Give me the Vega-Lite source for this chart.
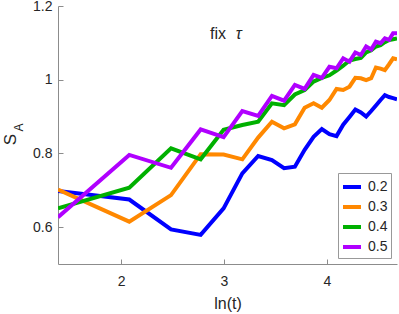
{
  "$schema": "https://vega.github.io/schema/vega-lite/v6.json",
  "width": 339,
  "height": 258,
  "autosize": {"type": "none"},
  "padding": {"left": 58, "top": 6, "right": 2, "bottom": 50},
  "config": {"view": {"stroke": null}, "font": "Liberation Sans"},
  "data": {"values": [
    {"tau":"0.2","lnt":1.386,"S":0.698},{"tau":"0.2","lnt":2.079,"S":0.675},{"tau":"0.2","lnt":2.485,"S":0.594},{"tau":"0.2","lnt":2.773,"S":0.579},{"tau":"0.2","lnt":2.996,"S":0.651},{"tau":"0.2","lnt":3.178,"S":0.746},{"tau":"0.2","lnt":3.332,"S":0.793},{"tau":"0.2","lnt":3.466,"S":0.782},{"tau":"0.2","lnt":3.584,"S":0.760},{"tau":"0.2","lnt":3.689,"S":0.764},{"tau":"0.2","lnt":3.784,"S":0.810},{"tau":"0.2","lnt":3.871,"S":0.845},{"tau":"0.2","lnt":3.951,"S":0.866},{"tau":"0.2","lnt":4.025,"S":0.852},{"tau":"0.2","lnt":4.094,"S":0.847},{"tau":"0.2","lnt":4.159,"S":0.878},{"tau":"0.2","lnt":4.220,"S":0.899},{"tau":"0.2","lnt":4.277,"S":0.919},{"tau":"0.2","lnt":4.331,"S":0.911},{"tau":"0.2","lnt":4.382,"S":0.900},{"tau":"0.2","lnt":4.431,"S":0.915},{"tau":"0.2","lnt":4.477,"S":0.930},{"tau":"0.2","lnt":4.522,"S":0.945},{"tau":"0.2","lnt":4.564,"S":0.958},{"tau":"0.2","lnt":4.605,"S":0.953},{"tau":"0.2","lnt":4.644,"S":0.950},{"tau":"0.2","lnt":4.682,"S":0.947},
    {"tau":"0.3","lnt":1.386,"S":0.702},{"tau":"0.3","lnt":2.079,"S":0.615},{"tau":"0.3","lnt":2.485,"S":0.687},{"tau":"0.3","lnt":2.773,"S":0.798},{"tau":"0.3","lnt":2.996,"S":0.797},{"tau":"0.3","lnt":3.178,"S":0.784},{"tau":"0.3","lnt":3.332,"S":0.843},{"tau":"0.3","lnt":3.466,"S":0.886},{"tau":"0.3","lnt":3.584,"S":0.868},{"tau":"0.3","lnt":3.689,"S":0.879},{"tau":"0.3","lnt":3.784,"S":0.924},{"tau":"0.3","lnt":3.871,"S":0.936},{"tau":"0.3","lnt":3.951,"S":0.924},{"tau":"0.3","lnt":4.025,"S":0.945},{"tau":"0.3","lnt":4.094,"S":0.975},{"tau":"0.3","lnt":4.159,"S":0.972},{"tau":"0.3","lnt":4.220,"S":0.981},{"tau":"0.3","lnt":4.277,"S":1.005},{"tau":"0.3","lnt":4.331,"S":1.004},{"tau":"0.3","lnt":4.382,"S":0.999},{"tau":"0.3","lnt":4.431,"S":1.004},{"tau":"0.3","lnt":4.477,"S":1.033},{"tau":"0.3","lnt":4.522,"S":1.030},{"tau":"0.3","lnt":4.564,"S":1.026},{"tau":"0.3","lnt":4.605,"S":1.042},{"tau":"0.3","lnt":4.644,"S":1.058},{"tau":"0.3","lnt":4.682,"S":1.055},
    {"tau":"0.4","lnt":1.386,"S":0.651},{"tau":"0.4","lnt":2.079,"S":0.707},{"tau":"0.4","lnt":2.485,"S":0.814},{"tau":"0.4","lnt":2.773,"S":0.784},{"tau":"0.4","lnt":2.996,"S":0.864},{"tau":"0.4","lnt":3.178,"S":0.877},{"tau":"0.4","lnt":3.332,"S":0.886},{"tau":"0.4","lnt":3.466,"S":0.936},{"tau":"0.4","lnt":3.584,"S":0.931},{"tau":"0.4","lnt":3.689,"S":0.960},{"tau":"0.4","lnt":3.784,"S":0.972},{"tau":"0.4","lnt":3.871,"S":0.995},{"tau":"0.4","lnt":3.951,"S":1.005},{"tau":"0.4","lnt":4.025,"S":1.012},{"tau":"0.4","lnt":4.094,"S":1.025},{"tau":"0.4","lnt":4.159,"S":1.038},{"tau":"0.4","lnt":4.220,"S":1.052},{"tau":"0.4","lnt":4.277,"S":1.056},{"tau":"0.4","lnt":4.331,"S":1.059},{"tau":"0.4","lnt":4.382,"S":1.074},{"tau":"0.4","lnt":4.431,"S":1.080},{"tau":"0.4","lnt":4.477,"S":1.090},{"tau":"0.4","lnt":4.522,"S":1.094},{"tau":"0.4","lnt":4.564,"S":1.102},{"tau":"0.4","lnt":4.605,"S":1.108},{"tau":"0.4","lnt":4.644,"S":1.110},{"tau":"0.4","lnt":4.682,"S":1.112},
    {"tau":"0.5","lnt":1.386,"S":0.627},{"tau":"0.5","lnt":2.079,"S":0.796},{"tau":"0.5","lnt":2.485,"S":0.761},{"tau":"0.5","lnt":2.773,"S":0.865},{"tau":"0.5","lnt":2.996,"S":0.844},{"tau":"0.5","lnt":3.178,"S":0.915},{"tau":"0.5","lnt":3.332,"S":0.902},{"tau":"0.5","lnt":3.466,"S":0.956},{"tau":"0.5","lnt":3.584,"S":0.943},{"tau":"0.5","lnt":3.689,"S":0.986},{"tau":"0.5","lnt":3.784,"S":0.975},{"tau":"0.5","lnt":3.871,"S":1.013},{"tau":"0.5","lnt":3.951,"S":1.005},{"tau":"0.5","lnt":4.025,"S":1.035},{"tau":"0.5","lnt":4.094,"S":1.031},{"tau":"0.5","lnt":4.159,"S":1.058},{"tau":"0.5","lnt":4.220,"S":1.049},{"tau":"0.5","lnt":4.277,"S":1.074},{"tau":"0.5","lnt":4.331,"S":1.067},{"tau":"0.5","lnt":4.382,"S":1.090},{"tau":"0.5","lnt":4.431,"S":1.082},{"tau":"0.5","lnt":4.477,"S":1.103},{"tau":"0.5","lnt":4.522,"S":1.099},{"tau":"0.5","lnt":4.564,"S":1.112},{"tau":"0.5","lnt":4.605,"S":1.108},{"tau":"0.5","lnt":4.644,"S":1.126},{"tau":"0.5","lnt":4.682,"S":1.126}
  ]},
  "layer": [
    {
      "mark": {"type": "line", "strokeWidth": 4, "clip": true},
      "encoding": {
        "x": {"field": "lnt", "type": "quantitative", "title": "ln(t)",
          "scale": {"domain": [1.386, 4.682], "nice": false, "zero": false},
          "axis": {"orient": "bottom", "title": "ln(t)", "values": [2, 3, 4], "format": "d", "grid": false,
            "labelFontSize": 14, "labelColor": "#262626", "titleFontSize": 16, "titleFontWeight": "normal", "titleColor": "#262626",
            "domainColor": "#8c8c8c", "tickColor": "#8c8c8c", "tickSize": -5, "labelPadding": 15, "titlePadding": 7}},
        "y": {"field": "S", "type": "quantitative",
          "scale": {"domain": [0.5, 1.2], "nice": false, "zero": false},
          "axis": {"title": "S", "values": [0.6, 0.8, 1, 1.2], "format": "~g", "grid": false,
            "labelFontSize": 14, "labelColor": "#262626", "titleFontSize": 17, "titleFontWeight": "normal", "titleColor": "#262626",
            "titleAngle": 270, "titleAlign": "center", "titleBaseline": "alphabetic", "titleX": -43, "titleY": 133,
            "domainColor": "#8c8c8c", "tickColor": "#8c8c8c", "tickSize": -5, "labelPadding": 11}},
        "color": {"field": "tau", "type": "nominal",
          "scale": {"domain": ["0.2", "0.3", "0.4", "0.5"], "range": ["#0000ff", "#ff8800", "#00b000", "#b000ff"]},
          "legend": {"title": null, "orient": "bottom-right", "offset": 6, "symbolType": "stroke", "symbolSize": 324,
            "symbolStrokeWidth": 4, "labelFontSize": 14, "labelColor": "#262626", "strokeColor": "#999999",
            "fillColor": "white", "padding": 3, "rowPadding": 1, "labelOffset": 5}}
      }
    },
    {
      "mark": {"type": "line", "opacity": 0},
      "encoding": {
        "x": {"field": "lnt", "type": "quantitative", "title": "ln(t)"},
        "y": {"field": "S", "type": "quantitative",
          "axis": {"orient": "left", "title": "A", "labels": false, "ticks": false, "domain": false, "grid": false,
            "titleFontSize": 12, "titleFontWeight": "normal", "titleColor": "#262626",
            "titleAngle": 270, "titleAlign": "center", "titleBaseline": "alphabetic", "titleX": -36, "titleY": 121}},
        "detail": {"field": "tau"}
      }
    },
    {
      "data": {"values": [{}]},
      "mark": {"type": "text", "text": "fix", "fontSize": 16, "align": "left", "baseline": "alphabetic", "color": "#262626"},
      "encoding": {
        "x": {"datum": 2.864, "type": "quantitative", "title": "ln(t)"},
        "y": {"datum": 1.11, "type": "quantitative", "axis": null}
      }
    },
    {
      "data": {"values": [{}]},
      "mark": {"type": "text", "text": "τ", "fontSize": 16, "fontStyle": "italic", "align": "left", "baseline": "alphabetic", "color": "#262626"},
      "encoding": {
        "x": {"datum": 3.114, "type": "quantitative", "title": "ln(t)"},
        "y": {"datum": 1.11, "type": "quantitative", "axis": null}
      }
    }
  ],
  "resolve": {"axis": {"y": "independent"}}
}
